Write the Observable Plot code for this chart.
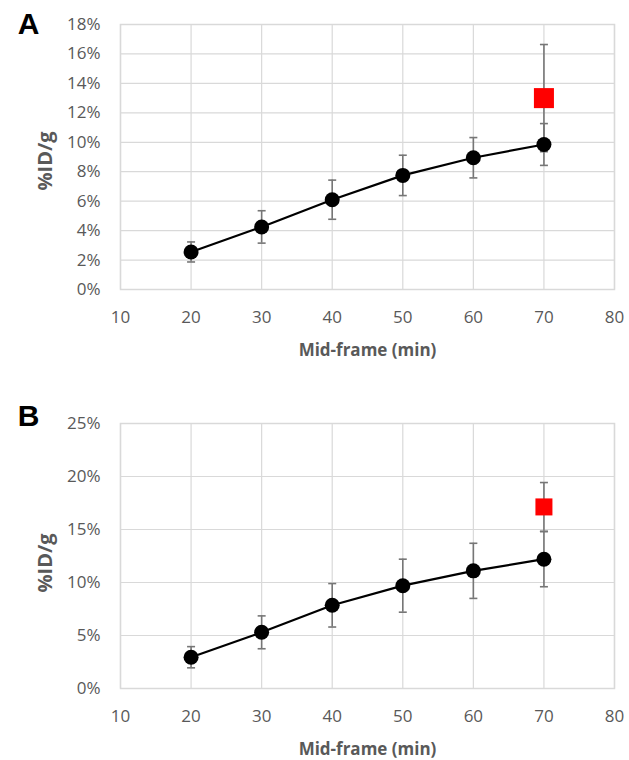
<!DOCTYPE html>
<html>
<head>
<meta charset="utf-8">
<script src="https://cdn.jsdelivr.net/npm/d3@7"></script>
<script src="https://cdn.jsdelivr.net/npm/@observablehq/plot@0.6"></script>
<style>
  html, body { margin: 0; padding: 0; background: #fff; }
  #chart { width: 629px; }
  #chart svg { display: block; }
</style>
</head>
<body>
<div id="chart"></div>
<script>
// ---- data (values in percent) ----
const minutes = [20, 30, 40, 50, 60, 70];
const xTicks = [10, 20, 30, 40, 50, 60, 70, 80];

const aMean = [2.55, 4.25, 6.1, 7.75, 8.95, 9.85];
const aErr  = [0.68, 1.1, 1.33, 1.37, 1.37, 1.42];
const aRedX = [70];
const aRedMean = [13.0];
const aRedErr  = [3.64];
const aTicks = [0, 2, 4, 6, 8, 10, 12, 14, 16, 18];

const bMean = [2.95, 5.3, 7.85, 9.7, 11.1, 12.2];
const bErr  = [1.0, 1.55, 2.05, 2.5, 2.6, 2.6];
const bRedX = [70];
const bRedMean = [17.13];
const bRedErr  = [2.3];
const bTicks = [0, 5, 10, 15, 20, 25];

const panelLetters = ["A", "B"];
const xTitle = "Mid-frame (min)";
const yTitle = "%ID/g";

// ---- helpers ----
const capSymbol = {
  draw(context, size) {
    const w = Math.sqrt(size / Math.PI);
    context.moveTo(-w, 0);
    context.lineTo(w, 0);
  }
};

function rows(xs, means, errs) {
  return xs.map((x, i) => ({x, y: means[i], lo: means[i] - errs[i], hi: means[i] + errs[i]}));
}

function panel({letter, mean, err, redX, redMean, redErr, ticks, yMax, marginTop, marginBottom,
                letterDy, yTitleDy, squareR}) {
  const main = rows(minutes, mean, err);
  const red = rows(redX, redMean, redErr);
  const grey = "#767676";
  return Plot.plot({
    width: 629,
    height: 380,
    marginLeft: 120,
    marginRight: 15,
    marginTop,
    marginBottom,
    style: {fontFamily: "'Open Sans', sans-serif", fontSize: "17px", color: "#595959", background: "#fff", overflow: "visible"},
    x: {domain: [10, 80]},
    y: {domain: [0, yMax]},
    marks: [
      Plot.gridX(xTicks, {stroke: "#d9d9d9", strokeOpacity: 1, strokeWidth: 1.2}),
      Plot.gridY(ticks, {stroke: "#d9d9d9", strokeOpacity: 1, strokeWidth: 1.2}),
      Plot.frame({stroke: "#d9d9d9", strokeWidth: 1.5}),
      Plot.axisX(xTicks, {tickSize: 0, tickPadding: 21, fill: "#595959", label: null, tickFormat: d => String(d)}),
      Plot.axisY(ticks, {tickSize: 0, tickPadding: 20, fill: "#595959", label: null, tickFormat: d => d + "%"}),
      // error bars (main series)
      Plot.ruleX(main, {x: "x", y1: "lo", y2: "hi", stroke: grey, strokeWidth: 1.6}),
      Plot.dot(main, {x: "x", y: "lo", symbol: capSymbol, r: 4, stroke: grey, strokeWidth: 1.6}),
      Plot.dot(main, {x: "x", y: "hi", symbol: capSymbol, r: 4, stroke: grey, strokeWidth: 1.6}),
      // error bars (red point)
      Plot.ruleX(red, {x: "x", y1: "lo", y2: "hi", stroke: grey, strokeWidth: 1.6}),
      Plot.dot(red, {x: "x", y: "lo", symbol: capSymbol, r: 4, stroke: grey, strokeWidth: 1.6}),
      Plot.dot(red, {x: "x", y: "hi", symbol: capSymbol, r: 4, stroke: grey, strokeWidth: 1.6}),
      // line + markers
      Plot.line(main, {x: "x", y: "y", stroke: "#000", strokeWidth: 2.2}),
      Plot.dot(main, {x: "x", y: "y", r: 7.5, fill: "#000", stroke: "none"}),
      Plot.dot(red, {x: "x", y: "y", symbol: "square", r: squareR, fill: "#ff0000", stroke: "none"}),
      // titles
      Plot.text([xTitle], {text: d => d, frameAnchor: "bottom", dy: 61, lineAnchor: "middle", textAnchor: "middle",
                           fontWeight: "bold", fontSize: 17, fill: "#595959"}),
      Plot.text([yTitle], {text: d => d, frameAnchor: "left", dx: -75, dy: yTitleDy, rotate: -90,
                           textAnchor: "middle", lineAnchor: "middle", fontWeight: "bold", fontSize: 20, fill: "#595959"}),
      Plot.text([letter], {text: d => d, frameAnchor: "top-left", dx: -92, dy: letterDy,
                           textAnchor: "middle", lineAnchor: "middle", fontWeight: "bold", fontSize: 30,
                           fontFamily: "'Liberation Sans', Arial, sans-serif", fill: "#000"})
    ]
  });
}

const chart = document.getElementById("chart");
chart.appendChild(panel({
  letter: panelLetters[0], mean: aMean, err: aErr, redX: aRedX, redMean: aRedMean, redErr: aRedErr,
  ticks: aTicks, yMax: 18, marginTop: 24, marginBottom: 91, letterDy: 0, yTitleDy: 4, squareR: 11.3
}));
chart.appendChild(panel({
  letter: panelLetters[1], mean: bMean, err: bErr, redX: bRedX, redMean: bRedMean, redErr: bRedErr,
  ticks: bTicks, yMax: 25, marginTop: 43, marginBottom: 72, letterDy: -7, yTitleDy: 7, squareR: 9.6
}));
</script>
</body>
</html>
